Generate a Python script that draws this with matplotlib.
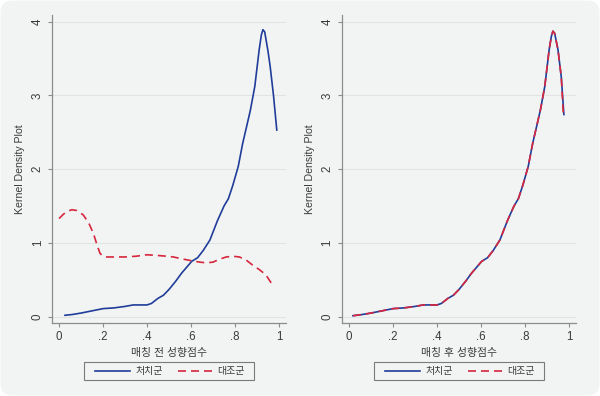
import matplotlib
matplotlib.use("Agg")
import matplotlib.pyplot as plt
from matplotlib.patches import FancyBboxPatch, Rectangle
from matplotlib.transforms import IdentityTransform

plt.rcParams['font.family'] = ['Liberation Sans', 'Noto Sans CJK KR', 'DejaVu Sans']

# 매칭 전 (before matching)
pre_x_treat = [0.027, 0.06, 0.1, 0.15, 0.2, 0.25, 0.3, 0.337, 0.37, 0.4, 0.42, 0.45,
               0.474, 0.5, 0.53, 0.557, 0.58, 0.603, 0.63, 0.656, 0.686, 0.72, 0.75,
               0.77, 0.79, 0.815, 0.835, 0.853, 0.87, 0.89, 0.91, 0.92, 0.927, 0.935,
               0.95, 0.96, 0.975, 0.99]
pre_y_treat = [0.02, 0.03, 0.05, 0.08, 0.11, 0.12, 0.14, 0.16, 0.16, 0.16, 0.18, 0.25,
               0.29, 0.37, 0.48, 0.59, 0.67, 0.75, 0.8, 0.9, 1.04, 1.3, 1.5,
               1.6, 1.78, 2.04, 2.35, 2.58, 2.8, 3.12, 3.62, 3.82, 3.89, 3.86,
               3.6, 3.39, 3.0, 2.53]
pre_x_ctrl = [0, 0.02, 0.04, 0.058, 0.08, 0.11, 0.135, 0.156, 0.172, 0.186, 0.2, 0.217,
              0.25, 0.3, 0.35, 0.4, 0.45, 0.49, 0.52, 0.55, 0.6, 0.64, 0.67, 0.7,
              0.73, 0.76, 0.79, 0.82, 0.85, 0.88, 0.91, 0.94, 0.975]
pre_y_ctrl = [1.33, 1.39, 1.43, 1.45, 1.44, 1.38, 1.27, 1.13, 0.98, 0.86, 0.82, 0.81,
              0.81, 0.81, 0.82, 0.84, 0.83, 0.82, 0.81, 0.79, 0.76, 0.74, 0.73, 0.74,
              0.78, 0.81, 0.82, 0.81, 0.77, 0.70, 0.64, 0.57, 0.41]

# 매칭 후 (after matching)
post_x_treat = [0.018, 0.06, 0.1, 0.15, 0.2, 0.25, 0.3, 0.337, 0.37, 0.4, 0.42, 0.45,
                0.474, 0.5, 0.53, 0.557, 0.58, 0.603, 0.63, 0.656, 0.686, 0.72, 0.75,
                0.77, 0.79, 0.815, 0.835, 0.853, 0.87, 0.89, 0.91, 0.92, 0.927, 0.935,
                0.95, 0.965, 0.977]
post_y_treat = [0.014, 0.03, 0.05, 0.08, 0.11, 0.12, 0.14, 0.16, 0.16, 0.16, 0.18, 0.25,
                0.29, 0.37, 0.48, 0.59, 0.67, 0.75, 0.8, 0.9, 1.04, 1.3, 1.5,
                1.6, 1.78, 2.04, 2.35, 2.58, 2.8, 3.12, 3.62, 3.8, 3.87, 3.84,
                3.62, 3.25, 2.74]
post_x_ctrl = post_x_treat[:-1] + [0.975]
post_y_ctrl = post_y_treat[:-1] + [2.71]

xticks = [0, 0.2, 0.4, 0.6, 0.8, 1]
xtick_labels = ['0', '.2', '.4', '.6', '.8', '1']
yticks = [0, 1, 2, 3, 4]
legend_labels = ['처치군', '대조군']

blue = '#1f3d99'
red = '#d7263d'
bg = '#f2f4f4'
axis_gray = '#8c8c8c'
text_col = '#3a3a3a'

fig = plt.figure(figsize=(6, 3.96), dpi=100)
fig.patch.set_facecolor('white')
card = FancyBboxPatch((0.5, 0.5), 599, 395, boxstyle='round,pad=0,rounding_size=12',
                      transform=IdentityTransform(), facecolor=bg, edgecolor='none',
                      zorder=-10)
fig.patches.append(card)

panels = [
    (0.0867, pre_x_treat, pre_y_treat, pre_x_ctrl, pre_y_ctrl, '매칭 전 성향점수'),
    (0.57, post_x_treat, post_y_treat, post_x_ctrl, post_y_ctrl, '매칭 후 성향점수'),
]

for left, xt, yt, xc, yc, xlabel in panels:
    ax = fig.add_axes([left, 0.1843, 0.39, 0.778])
    ax.set_facecolor('none')
    ax.plot(xt, yt, color=blue, lw=1.2, label=legend_labels[0], zorder=3)
    ax.plot(xc, yc, color=red, lw=1.2, linestyle=(0, (4.8, 3)), label=legend_labels[1], zorder=4)
    ax.set_xlim(-0.032, 1.032)
    ax.set_ylim(-0.085, 4.09)
    ax.set_xticks(xticks)
    ax.set_xticklabels(xtick_labels)
    ax.set_yticks(yticks)
    ax.yaxis.grid(True, color='#e0e4e4', lw=0.8)
    ax.set_axisbelow(True)
    for s in ['top', 'right']:
        ax.spines[s].set_visible(False)
    for s in ['left', 'bottom']:
        ax.spines[s].set_color(axis_gray)
        ax.spines[s].set_linewidth(0.9)
    ax.tick_params(direction='out', length=3, width=0.8, color=axis_gray,
                   labelsize=8.3, labelcolor=text_col, pad=3)
    for lab in ax.get_yticklabels():
        lab.set_rotation(90)
        lab.set_va('center')
    ax.set_xlabel(xlabel, fontsize=7.8, color=text_col, labelpad=3)
    ax.set_ylabel('Kernel Density Plot', fontsize=7.6, color=text_col, labelpad=5)

    # legend box
    frame = Rectangle((0.137, -0.185), 0.7265, 0.0575, transform=ax.transAxes,
                      facecolor=bg, edgecolor='#7a7a7a', lw=0.8, clip_on=False)
    ax.add_patch(frame)
    leg = ax.legend(loc='center', bbox_to_anchor=(0.505, -0.156), ncol=2,
                    frameon=False, fontsize=7.2, handlelength=3.5,
                    columnspacing=1.5, borderpad=0.2, handletextpad=0.5)
    for t in leg.get_texts():
        t.set_color(text_col)

fig.savefig('out.png', dpi=100, facecolor='white')
